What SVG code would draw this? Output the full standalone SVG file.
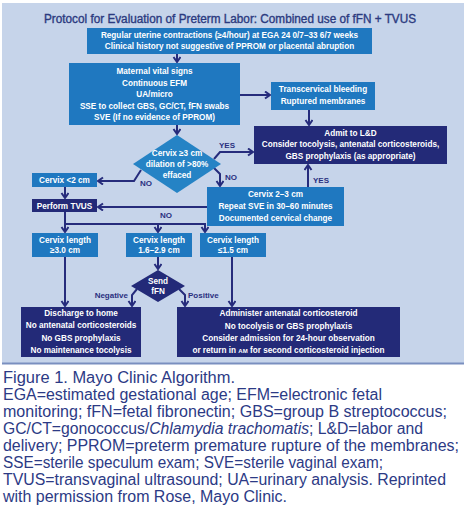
<svg xmlns="http://www.w3.org/2000/svg" width="466" height="512" viewBox="0 0 466 512">
<defs>
<style>
.mid{fill:#1f78c0}
.dark{fill:#232a78}
.dia{fill:#2583c5}
.bt{font-family:"Liberation Sans",Arial,sans-serif;font-size:8.2px;font-weight:bold;fill:#ffffff;text-anchor:middle}
.lb{font-family:"Liberation Sans",Arial,sans-serif;font-size:8px;font-weight:bold;fill:#2a3080}
.cap{font-family:"Liberation Sans",Arial,sans-serif;font-size:16px;fill:#2c3a85}
.ln{fill:none;stroke:#262c7c;stroke-width:2}
</style>
<marker id="ah" markerUnits="userSpaceOnUse" markerWidth="10" markerHeight="10" refX="6" refY="4" orient="auto">
<path d="M1,0.5 L6,4 L1,7.5" fill="none" stroke="#262c7c" stroke-width="2"/>
</marker>
</defs>
<rect x="2" y="3" width="462" height="360" fill="#c6d4ea"/>
<line x1="2" y1="363.5" x2="464" y2="363.5" stroke="#7a8fbf" stroke-width="2"/>
<text x="230" y="23" text-anchor="middle" font-family="'Liberation Sans',Arial,sans-serif" font-size="12" fill="#2b3a80" stroke="#2b3a80" stroke-width="0.35" textLength="372" lengthAdjust="spacingAndGlyphs">Protocol for Evaluation of Preterm Labor: Combined use of fFN + TVUS</text>

<g id="connectors">
<line class="ln" x1="177" y1="54" x2="177" y2="62" marker-end="url(#ah)"/>
<line class="ln" x1="240" y1="95" x2="270" y2="95" marker-end="url(#ah)"/>
<line class="ln" x1="309" y1="110" x2="309" y2="125" marker-end="url(#ah)"/>
<line class="ln" x1="177" y1="125" x2="177" y2="134" marker-end="url(#ah)"/>
<polyline class="ln" points="214,159 220,152 253,152" marker-end="url(#ah)"/>
<polyline class="ln" points="141,170 134,181 98,181" marker-end="url(#ah)"/>
<polyline class="ln" points="213,167 220,174 220,186" marker-end="url(#ah)"/>
<line class="ln" x1="308" y1="187" x2="308" y2="165" marker-end="url(#ah)"/>
<line class="ln" x1="65" y1="187" x2="65" y2="198" marker-end="url(#ah)"/>
<line class="ln" x1="207" y1="207" x2="98" y2="207" marker-end="url(#ah)"/>
<polyline class="ln" points="65,212 65,232" marker-end="url(#ah)"/>
<line class="ln" x1="64" y1="224" x2="206" y2="224"/>
<line class="ln" x1="158" y1="224" x2="158" y2="232" marker-end="url(#ah)"/>
<line class="ln" x1="205" y1="224" x2="205" y2="232" marker-end="url(#ah)"/>
<line class="ln" x1="158" y1="257" x2="158" y2="269" marker-end="url(#ah)"/>
<polyline class="ln" points="137,289 132,295 132,306" marker-end="url(#ah)"/>
<polyline class="ln" points="179,289 185,295 185,306" marker-end="url(#ah)"/>
<line class="ln" x1="65" y1="257" x2="65" y2="306" marker-end="url(#ah)"/>
<line class="ln" x1="232" y1="257" x2="232" y2="306" marker-end="url(#ah)"/>
<text class="lb" x="219" y="148">YES</text>
<text class="lb" x="140" y="186">NO</text>
<text class="lb" x="225" y="180">NO</text>
<text class="lb" x="313" y="183">YES</text>
<text class="lb" x="160" y="218">NO</text>
<text class="lb" x="128" y="298" text-anchor="end">Negative</text>
<text class="lb" x="188" y="298">Positive</text>
</g>

<g id="n-contractions">
<rect class="mid" x="87" y="28" width="285" height="26"/>
<text class="bt" x="229.5" y="38">Regular uterine contractions (≥4/hour) at EGA 24 0/7–33 6/7 weeks</text>
<text class="bt" x="229.5" y="49">Clinical history not suggestive of PPROM or placental abruption</text>
</g>
<g id="n-maternal">
<rect class="mid" x="69" y="63" width="171" height="62"/>
<text class="bt" x="154.5" y="74">Maternal vital signs</text>
<text class="bt" x="154.5" y="86">Continuous EFM</text>
<text class="bt" x="154.5" y="97">UA/micro</text>
<text class="bt" x="154.5" y="109">SSE to collect GBS, GC/CT, fFN swabs</text>
<text class="bt" x="154.5" y="120">SVE (If no evidence of PPROM)</text>
</g>
<g id="n-bleeding">
<rect class="mid" x="271" y="82" width="104" height="28"/>
<text class="bt" x="323" y="92">Transcervical bleeding</text>
<text class="bt" x="323" y="104">Ruptured membranes</text>
</g>
<g id="n-admit">
<rect class="dark" x="254" y="126" width="193" height="38"/>
<text class="bt" x="350.5" y="136">Admit to L&amp;D</text>
<text class="bt" x="350.5" y="147">Consider tocolysis, antenatal corticosteroids,</text>
<text class="bt" x="350.5" y="159">GBS prophylaxis (as appropriate)</text>
</g>
<g id="n-cervix3">
<polygon class="dia" points="177,135 221,164 177,193 133,164"/>
<text class="bt" x="177" y="156">Cervix ≥3 cm</text>
<text class="bt" x="177" y="167">dilation of &gt;80%</text>
<text class="bt" x="177" y="178">effaced</text>
</g>
<g id="n-cervix2">
<rect class="mid" x="32" y="173" width="65" height="14"/>
<text class="bt" x="64.5" y="183">Cervix &lt;2 cm</text>
</g>
<g id="n-cervix23">
<rect class="mid" x="207" y="187" width="137" height="39"/>
<text class="bt" x="275.5" y="197">Cervix 2–3 cm</text>
<text class="bt" x="275.5" y="209">Repeat SVE in 30–60 minutes</text>
<text class="bt" x="275.5" y="221">Documented cervical change</text>
</g>
<g id="n-tvus">
<rect class="dark" x="32" y="199" width="65" height="13"/>
<text class="bt" x="64.5" y="209">Perform TVUS</text>
</g>
<g id="n-len30">
<rect class="mid" x="32" y="233" width="66" height="24"/>
<text class="bt" x="65" y="243">Cervix length</text>
<text class="bt" x="65" y="253">≥3.0 cm</text>
</g>
<g id="n-len16">
<rect class="mid" x="126" y="233" width="66" height="24"/>
<text class="bt" x="159" y="243">Cervix length</text>
<text class="bt" x="159" y="253">1.6–2.9 cm</text>
</g>
<g id="n-len15">
<rect class="mid" x="200" y="233" width="66" height="24"/>
<text class="bt" x="233" y="243">Cervix length</text>
<text class="bt" x="233" y="253">≤1.5 cm</text>
</g>
<g id="n-fFN">
<polygon class="dark" points="158,270 185,286 158,302 131,286"/>
<text class="bt" x="158" y="284">Send</text>
<text class="bt" x="158" y="294">fFN</text>
</g>
<g id="n-discharge">
<rect class="dark" x="21" y="307" width="120" height="50"/>
<text class="bt" x="81" y="316">Discharge to home</text>
<text class="bt" x="81" y="328">No antenatal corticosteroids</text>
<text class="bt" x="81" y="341">No GBS prophylaxis</text>
<text class="bt" x="81" y="353">No maintenance tocolysis</text>
</g>
<g id="n-administer">
<rect class="dark" x="177" y="307" width="223" height="50"/>
<text class="bt" x="288.5" y="316">Administer antenatal corticosteroid</text>
<text class="bt" x="288.5" y="329">No tocolysis or GBS prophylaxis</text>
<text class="bt" x="288.5" y="341">Consider admission for 24-hour observation</text>
<text class="bt" x="288.5" y="353">or return in <tspan font-size="6">AM</tspan> for second corticosteroid injection</text>
</g>

<g id="caption">
<text class="cap" x="3" y="383" textLength="232" lengthAdjust="spacingAndGlyphs">Figure 1. Mayo Clinic Algorithm.</text>
<text class="cap" x="3" y="400" textLength="379" lengthAdjust="spacingAndGlyphs">EGA=estimated gestational age; EFM=electronic fetal</text>
<text class="cap" x="3" y="417" textLength="444" lengthAdjust="spacingAndGlyphs">monitoring; fFN=fetal fibronectin; GBS=group B streptococcus;</text>
<text class="cap" x="3" y="434" textLength="420" lengthAdjust="spacingAndGlyphs">GC/CT=gonococcus/<tspan font-style="italic">Chlamydia trachomatis</tspan>; L&amp;D=labor and</text>
<text class="cap" x="3" y="451" textLength="456" lengthAdjust="spacingAndGlyphs">delivery; PPROM=preterm premature rupture of the membranes;</text>
<text class="cap" x="3" y="468" textLength="380" lengthAdjust="spacingAndGlyphs">SSE=sterile speculum exam; SVE=sterile vaginal exam;</text>
<text class="cap" x="3" y="485" textLength="443" lengthAdjust="spacingAndGlyphs">TVUS=transvaginal ultrasound; UA=urinary analysis. Reprinted</text>
<text class="cap" x="3" y="502" textLength="284" lengthAdjust="spacingAndGlyphs">with permission from Rose, Mayo Clinic.</text>
</g>
</svg>
